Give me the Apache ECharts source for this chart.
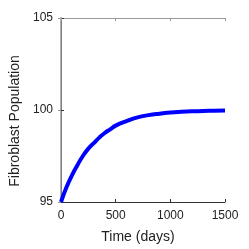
<!DOCTYPE html>
<html><head><meta charset="utf-8">
<script src="https://cdn.jsdelivr.net/npm/echarts@6/dist/echarts.min.js"></script>
<style>html,body{margin:0;padding:0;background:#fff}#c{width:249px;height:249px}</style>
</head><body><div id="c"></div>
<script>
var days = [0, 50, 100, 150, 200, 250, 300, 350, 400, 450, 500, 600, 700, 800, 900, 1000, 1100, 1200, 1300, 1400, 1500];
var population = [95, 95.8, 96.45, 97.0, 97.5, 97.9, 98.2, 98.5, 98.75, 98.95, 99.15, 99.4, 99.6, 99.72, 99.8, 99.86, 99.9, 99.93, 99.95, 99.96, 99.97];
var xTicks = [0, 500, 1000, 1500];
var yTicks = [95, 100, 105];
var chart = echarts.init(document.getElementById('c'));
var font = 'Liberation Sans, Arial, sans-serif';
chart.setOption({
  animation: false,
  grid: {left: 57, right: 24, top: 18, bottom: 45},
  xAxis: [{
    type: 'value', min: 0, max: 1500, interval: 500,
    name: 'Time (days)', nameLocation: 'middle', nameGap: 28,
    nameTextStyle: {fontSize: 14, color: '#222', fontFamily: font, padding: [0, 10, 0, 0]},
    axisLine: {lineStyle: {color: '#333', width: 1}},
    axisTick: {inside: true, length: 3, lineStyle: {color: '#333'}},
    axisLabel: {fontSize: 12, color: '#222', fontFamily: font, margin: 8,
      formatter: function (v) { return xTicks.indexOf(v) >= 0 ? String(v) : ''; }},
    splitLine: {show: false}
  }, {
    type: 'value', min: 0, max: 1500, interval: 500, position: 'top',
    axisLine: {show: true, lineStyle: {color: '#999', width: 1}},
    axisTick: {inside: true, length: 3, lineStyle: {color: '#999'}},
    axisLabel: {show: false}, splitLine: {show: false}
  }],
  yAxis: [{
    type: 'value', min: 95, max: 105, interval: 5,
    name: 'Fibroblast Population', nameLocation: 'middle', nameGap: 39,
    nameTextStyle: {fontSize: 14, color: '#222', fontFamily: font, padding: [0, 0, 0, -22]},
    axisLine: {show: true, lineStyle: {color: '#333', width: 1}},
    axisTick: {inside: true, length: 3, lineStyle: {color: '#333'}},
    axisLabel: {fontSize: 12, color: '#222', fontFamily: font, margin: 8,
      formatter: function (v) { return yTicks.indexOf(v) >= 0 ? String(v) : ''; }},
    splitLine: {show: false}
  }, {
    type: 'value', min: 95, max: 105, interval: 5, position: 'right',
    axisLine: {show: true, lineStyle: {color: '#999', width: 1.5}},
    axisTick: {inside: true, length: 3, lineStyle: {color: '#999'}},
    axisLabel: {show: false}, splitLine: {show: false}
  }],
  series: [{
    type: 'line', smooth: true, showSymbol: false,
    data: days.map(function (d, i) { return [d, population[i]]; }),
    lineStyle: {color: '#0000ff', width: 4}
  }]
});
</script></body></html>
